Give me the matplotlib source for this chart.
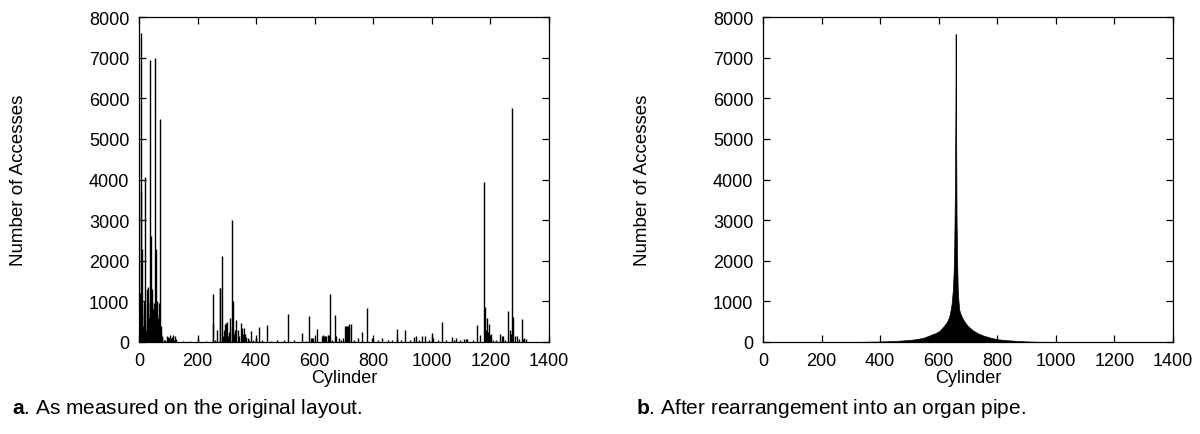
import matplotlib
matplotlib.use("Agg")
import matplotlib.pyplot as plt

plt.rcParams['font.family'] = ['Liberation Sans', 'DejaVu Sans']
plt.rcParams['mathtext.fontset'] = 'custom'
plt.rcParams['mathtext.bf'] = 'Liberation Sans:bold'
plt.rcParams['mathtext.rm'] = 'Liberation Sans'

# a. accesses per cylinder on the original layout
left_cyl = [2, 4, 6, 8, 10, 12, 14, 16, 18, 20, 22, 24, 26, 28, 30, 32, 34, 36, 38,
            39, 41, 43, 44, 46, 48, 50, 52, 54, 56, 58, 60, 62, 64, 66, 68, 70, 72,
            74, 76, 78, 80, 84, 88, 95, 98, 102, 105, 108, 112, 115, 118, 122, 125,
            150, 175, 200, 230, 252, 253, 260, 268, 276, 278, 285, 288, 292, 295, 297,
            300, 304, 308, 312, 316, 319, 322, 325, 329, 333, 338, 342, 347, 351, 355,
            358, 362, 366, 371, 376, 382, 390, 398, 400, 410, 420, 436, 450, 470, 495,
            510, 530, 556, 570, 580, 588, 591, 594, 607, 625, 628, 632, 636, 640, 645,
            648, 652, 660, 670, 673, 684, 690, 698, 704, 707, 710, 713, 716, 718, 723,
            735, 748, 762, 780, 795, 800, 815, 830, 850, 865, 880, 881, 895, 908, 925,
            940, 946, 955, 968, 975, 990, 1000, 1005, 1020, 1036, 1050, 1068, 1075,
            1084, 1095, 1110, 1115, 1120, 1140, 1155, 1165, 1179, 1182, 1185, 1188,
            1192, 1195, 1201, 1210, 1220, 1232, 1238, 1243, 1250, 1261, 1267, 1270,
            1275, 1278, 1283, 1290, 1298, 1308, 1312, 1316, 1320]
left_cnt = [650, 1200, 3700, 7600, 2300, 900, 400, 700, 1000, 4050, 500, 300, 900,
            1300, 1350, 700, 600, 950, 1000, 6950, 2600, 1000, 1300, 700, 800, 950,
            600, 900, 7000, 2300, 700, 1000, 600, 400, 300, 950, 5500, 400, 200, 150,
            100, 60, 40, 150, 120, 100, 160, 90, 130, 180, 60, 150, 80,
            30, 20, 100, 30, 1170, 440, 60, 300, 1330, 1330, 2110, 150, 300, 440, 460,
            490, 150, 250, 590, 3010, 400, 1020, 200, 300, 550, 300, 150, 470, 340, 200,
            340, 200, 120, 90, 60, 280, 50, 90, 110, 370, 40, 430, 30, 40, 60,
            690, 40, 220, 30, 640, 90, 100, 90, 320, 150, 160, 150, 150, 140, 170,
            170, 1190, 60, 660, 150, 90, 60, 100, 390, 400, 400, 390, 380, 440, 440,
            60, 90, 255, 830, 110, 100, 40, 110, 50, 40, 330, 130, 40, 290, 50,
            130, 140, 60, 140, 150, 40, 230, 90, 40, 500, 40, 120, 60,
            110, 40, 80, 70, 80, 40, 420, 170, 3950, 850, 300, 590,
            250, 450, 200, 60, 60, 200, 140, 150, 60, 760, 290, 200,
            5760, 610, 150, 150, 80, 565, 80, 90, 80]

# b. the same accesses after the organ pipe rearrangement
pipe_cyl = [300, 400, 450, 500, 525, 550, 570, 590, 604, 615, 627, 635, 639, 644,
            648, 651, 653, 655, 657, 658, 659, 661, 663, 665, 667, 670, 673, 680,
            690, 700, 718, 735, 752, 775, 798, 830, 866, 900, 935, 1000]
pipe_cnt = [0, 12, 25, 50, 70, 110, 165, 220, 280, 370, 480, 600, 720, 930,
            1250, 1700, 2300, 3500, 5500, 7580, 6000, 3000, 2000, 1300, 1050, 800,
            720, 600, 480, 390, 280, 210, 160, 110, 70, 45, 28, 14, 6, 0]

xticks = [0, 200, 400, 600, 800, 1000, 1200, 1400]
yticks = [0, 1000, 2000, 3000, 4000, 5000, 6000, 7000, 8000]

fig = plt.figure(figsize=(12, 4.35), dpi=100)
ax1 = fig.add_axes([0.1158, 0.2115, 0.3417, 0.7471])
ax2 = fig.add_axes([0.6358, 0.2115, 0.3417, 0.7471])

ax1.vlines(left_cyl, 0, left_cnt, color='black', linewidth=1.0)
ax2.fill_between(pipe_cyl, 0, pipe_cnt, color='black', linewidth=0.5)

for ax in (ax1, ax2):
    ax.set_xlim(0, 1400)
    ax.set_ylim(0, 8000)
    ax.set_xticks(xticks)
    ax.set_yticks(yticks)
    ax.tick_params(direction='in', top=True, right=True, length=5, width=0.9,
                   labelsize=13, pad=7)
    for s in ax.spines.values():
        s.set_linewidth(0.9)
    ax.set_xlabel("Cylinder", fontsize=13, labelpad=0)
    ax.set_ylabel("Number of Accesses", fontsize=13.5)
    ax.yaxis.set_label_coords(-0.273, 0.5)

fig.text(0.01, 0.062, r"$\mathbf{a}$. As measured on the original layout.",
         fontsize=15, va='center')
fig.text(0.53, 0.062, r"$\mathbf{b}$. After rearrangement into an organ pipe.",
         fontsize=15, va='center')

fig.savefig("out.png", dpi=100)
